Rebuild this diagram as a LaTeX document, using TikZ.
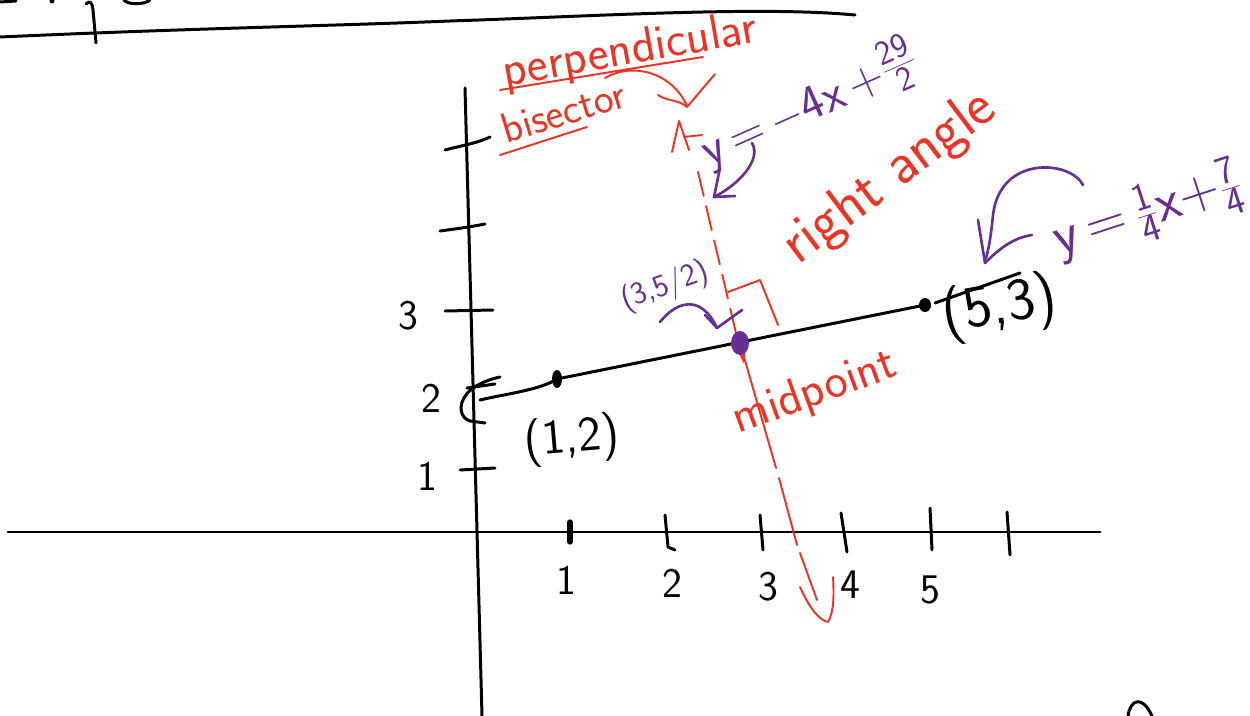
\documentclass[tikz,border=0pt]{standalone}
\usepackage{fontspec}
\definecolor{penred}{RGB}{236,52,36}
\definecolor{penpurple}{RGB}{103,47,145}
\begin{document}
\begin{tikzpicture}[x=0.02cm,y=-0.02cm,line cap=round,line join=round,
  blk/.style={draw=black,line width=1.7pt},
  rd/.style={draw=penred,line width=1.1pt},
  pu/.style={draw=penpurple,line width=1.5pt},
  lbl/.style={inner sep=0pt,font=\sffamily\fontsize{24}{28}\selectfont},
  redtxt/.style={lbl,text=penred},
  putxt/.style={lbl,text=penpurple}]
\useasboundingbox (0,0) rectangle (1250,716);
\fill[white] (0,0) rectangle (1250,716);
% top header line and fragments
\draw[blk] (0,37) .. controls (200,28) and (330,26) .. (450,21) .. controls (600,16) and (760,6) .. (855,15);
\draw[blk] (86,4) .. controls (90,0) and (92,2) .. (93,10) -- (96,43);
\draw[blk] (0,2) -- (16,1);
\fill (52,1) circle (2.5);
\draw[blk] (124,0) .. controls (128,5) and (144,5) .. (150,0);
% axes
\coordinate (yT) at (465,88);
\coordinate (yB) at (482,716);
\coordinate (xL) at (8,532);
\coordinate (xR) at (1100,532);
\draw[blk] (yT) -- (yB);
\draw[blk] (xL) -- (xR);
% y ticks
\draw[blk] (445,150) .. controls (460,146) and (478,143) .. (490,137);
\draw[blk] (440,231) .. controls (455,229) and (470,227) .. (485,224);
\draw[blk] (445,311) -- (493,310);
\draw[blk] (467,388) -- (495,384);
\draw[blk] (460,470) -- (495,468);
\draw[blk] (500,377) .. controls (485,380) and (470,388) .. (466,395) .. controls (458,405) and (460,418) .. (470,421) -- (485,423);
% x ticks
\draw[draw=black,line width=3pt] (570,522) -- (570,542);
\draw[blk] (665,515) -- (668,547) -- (675,550);
\draw[blk] (760,515) -- (763,550);
\draw[blk] (841,513) -- (847,552);
\draw[blk] (930,508) -- (932,550);
\draw[blk] (1007,512) -- (1010,555);
% axis labels
\node[lbl] (y3) at (408,316) {3};
\node[lbl] (y2) at (431,398) {2};
\node[lbl] (y1) at (427,476) {1};
\node[lbl] (x1) at (566,580) {1};
\node[lbl] (x2) at (672,583) {2};
\node[lbl] (x3) at (768,587) {3};
\node[lbl] (x4) at (850,585) {4};
\node[lbl] (x5) at (930,590) {5};
% segment and points
\coordinate (P1) at (557,379);
\coordinate (P5) at (925,305);
\coordinate (M) at (740,343);
\draw[blk] (480,400) .. controls (505,394) and (540,390) .. (P1);
\draw[blk] (P1) -- (P5);
\draw[blk] (935,303) -- (1020,273);
\fill (P1) ellipse (5 and 9);
\fill (P5) ellipse (6 and 7);
% perpendicular bisector (red)
\draw[rd,dash pattern=on 14pt off 6pt] (698,172) -- (736,333);
\fill[penred] (736,348) -- (746,348) -- (744,364) -- cycle;
\draw[rd] (742,350) -- (776,468);
\draw[rd] (779,478) -- (797,545);
\draw[rd] (800,553) -- (817,600);
\draw[rd] (800,587) .. controls (808,605) and (818,620) .. (828,622) .. controls (834,612) and (834,595) .. (833,577);
\fill[penpurple] (M) ellipse (9 and 12);
% right angle mark
\draw[rd] (728,292) -- (760,280) -- (778,325);
% top red caret
\draw[rd] (672,152) -- (679,121) -- (689,150);
\draw[rd] (684,137) -- (702,135);
% labels
\node[redtxt,font=\sffamily\fontsize{28}{32}\selectfont,rotate=10] (perp) at (630,52) {perpendicular};
\node[redtxt,rotate=17] (bis) at (563,111) {bisector};
\draw[rd] (500,90) -- (703,57);
\draw[rd] (500,155) -- (587,127);
\draw[rd] (605,78) .. controls (632,62) and (672,72) .. (687,106);
\draw[rd] (658,95) .. controls (666,101) and (680,100) .. (687,107) -- (715,74);
\node[putxt,font=\sffamily\fontsize{28}{32}\selectfont,rotate=24] (eq1) at (809,104) {y\,=\,$-$4x\,+\raisebox{0.2ex}{$\frac{\mathsf{29}}{\mathsf{2}}$}};
\draw[pu] (752,143) .. controls (762,160) and (738,185) .. (714,197);
\draw[pu] (720,168) -- (714,197) -- (735,196);
\node[redtxt,font=\sffamily\fontsize{34}{38}\selectfont,rotate=37] (ra) at (890,178) {right angle};
\node[redtxt,font=\sffamily\fontsize{28}{32}\selectfont,rotate=20] (mid) at (815,393) {midpoint};
\node[putxt,font=\sffamily\fontsize{18}{22}\selectfont,rotate=20] (mlab) at (665,287) {(3,5/2)};
\draw[pu] (660,322) .. controls (675,303) and (700,292) .. (717,328);
\draw[pu] (705,315) -- (717,328) -- (742,310);
\node[lbl,font=\sffamily\fontsize{28}{32}\selectfont,rotate=5] (p1lab) at (572,440) {(1,2)};
\node[lbl,font=\sffamily\fontsize{34}{38}\selectfont,rotate=10] (p5lab) at (1000,308) {(5,3)};
\node[putxt,font=\sffamily\fontsize{32}{36}\selectfont,rotate=18] (eq2) at (1148,212) {y\,=\,$\frac{\mathsf{1}}{\mathsf{4}}$x+$\frac{\mathsf{7}}{\mathsf{4}}$};
\draw[pu] (1083,185) .. controls (1070,160) and (1000,155) .. (993,215) .. controls (991,235) and (989,248) .. (986,258);
\draw[pu] (978,220) -- (985,263) .. controls (998,250) and (1012,238) .. (1032,235);
% bottom right fragment
\draw[blk] (1128,716) .. controls (1130,700) and (1142,694) .. (1152,716);
\end{tikzpicture}
\end{document}
